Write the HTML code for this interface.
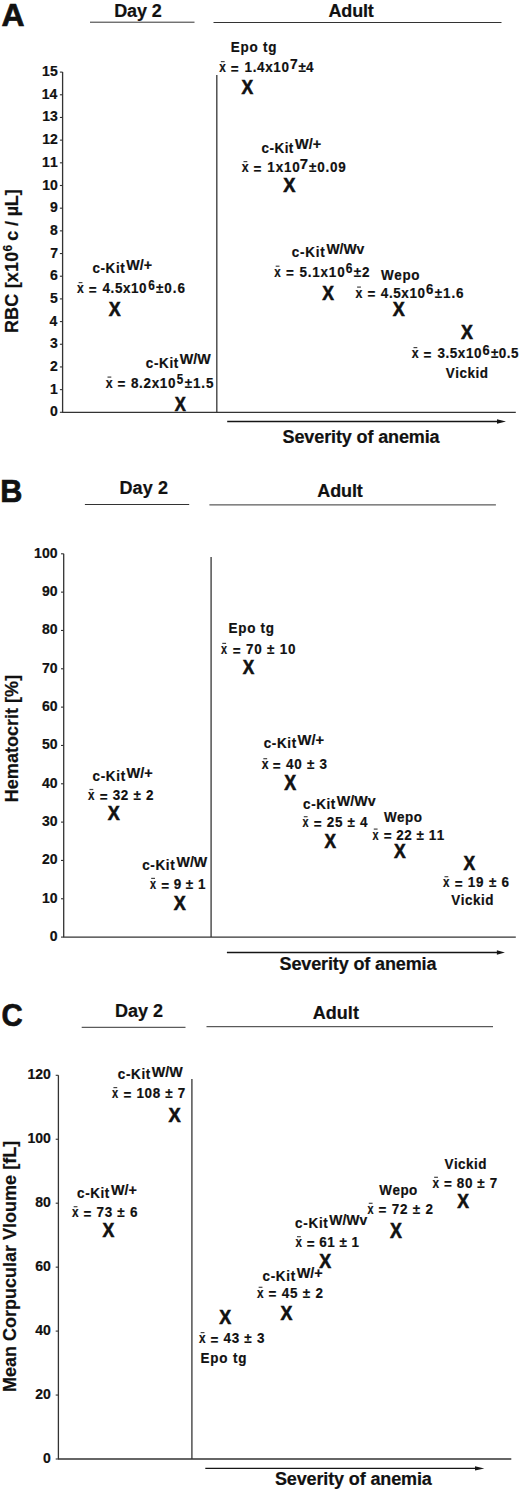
<!DOCTYPE html>
<html><head><meta charset="utf-8"><style>
html,body{margin:0;padding:0;background:#fff;}
svg{display:block;}
text{font-family:"Liberation Sans", sans-serif;font-weight:bold;fill:#111;font-kerning:none;stroke:#111;stroke-width:0.2px;}
.m{stroke-width:0.6px;}
.pl{stroke-width:0.7px;}
</style></head><body>
<svg width="520" height="1490" viewBox="0 0 520 1490">
<text transform="translate(1.51 26.10) scale(0.9968 1)" x="0" y="0" font-size="32" class="pl">A</text>
<text x="114.20" y="16.70" font-size="18" letter-spacing="-0.127" >Day 2</text>
<line x1="90" y1="22.2" x2="194.5" y2="22.2" stroke="#333" stroke-width="1"/>
<text x="328.55" y="17.10" font-size="18" letter-spacing="-0.204" >Adult</text>
<line x1="213.5" y1="22.5" x2="501.5" y2="22.5" stroke="#333" stroke-width="1"/>
<line x1="62.6" y1="72.1" x2="62.6" y2="412.3" stroke="#333" stroke-width="1.3"/>
<line x1="59.9" y1="412.3" x2="62.6" y2="412.3" stroke="#333" stroke-width="1.1"/>
<text x="50.09" y="416.30" font-size="14" >0</text>
<line x1="59.9" y1="389.62" x2="62.6" y2="389.62" stroke="#333" stroke-width="1.1"/>
<text x="49.90" y="393.62" font-size="14" >1</text>
<line x1="59.9" y1="366.94" x2="62.6" y2="366.94" stroke="#333" stroke-width="1.1"/>
<text x="50.07" y="370.94" font-size="14" >2</text>
<line x1="59.9" y1="344.26" x2="62.6" y2="344.26" stroke="#333" stroke-width="1.1"/>
<text x="50.02" y="348.26" font-size="14" >3</text>
<line x1="59.9" y1="321.58" x2="62.6" y2="321.58" stroke="#333" stroke-width="1.1"/>
<text x="49.59" y="325.58" font-size="14" >4</text>
<line x1="59.9" y1="298.9" x2="62.6" y2="298.9" stroke="#333" stroke-width="1.1"/>
<text x="49.90" y="302.90" font-size="14" >5</text>
<line x1="59.9" y1="276.22" x2="62.6" y2="276.22" stroke="#333" stroke-width="1.1"/>
<text x="50.02" y="280.22" font-size="14" >6</text>
<line x1="59.9" y1="253.53999999999996" x2="62.6" y2="253.53999999999996" stroke="#333" stroke-width="1.1"/>
<text x="50.13" y="257.54" font-size="14" >7</text>
<line x1="59.9" y1="230.85999999999999" x2="62.6" y2="230.85999999999999" stroke="#333" stroke-width="1.1"/>
<text x="49.94" y="234.86" font-size="14" >8</text>
<line x1="59.9" y1="208.18" x2="62.6" y2="208.18" stroke="#333" stroke-width="1.1"/>
<text x="50.03" y="212.18" font-size="14" >9</text>
<line x1="59.9" y1="185.49999999999997" x2="62.6" y2="185.49999999999997" stroke="#333" stroke-width="1.1"/>
<text x="42.30" y="189.50" font-size="14" >10</text>
<line x1="59.9" y1="162.81999999999996" x2="62.6" y2="162.81999999999996" stroke="#333" stroke-width="1.1"/>
<text x="42.12" y="166.82" font-size="14" >11</text>
<line x1="59.9" y1="140.14" x2="62.6" y2="140.14" stroke="#333" stroke-width="1.1"/>
<text x="42.29" y="144.14" font-size="14" >12</text>
<line x1="59.9" y1="117.45999999999998" x2="62.6" y2="117.45999999999998" stroke="#333" stroke-width="1.1"/>
<text x="42.23" y="121.46" font-size="14" >13</text>
<line x1="59.9" y1="94.77999999999992" x2="62.6" y2="94.77999999999992" stroke="#333" stroke-width="1.1"/>
<text x="41.80" y="98.78" font-size="14" >14</text>
<line x1="59.9" y1="72.09999999999997" x2="62.6" y2="72.09999999999997" stroke="#333" stroke-width="1.1"/>
<text x="42.12" y="76.10" font-size="14" >15</text>
<text transform="translate(18.10,0) rotate(-90)" x="-333.10" y="0" font-size="18" letter-spacing="0.188">RBC [x10</text>
<text transform="translate(12.40,0) rotate(-90)" x="-251.44" y="0" font-size="12" letter-spacing="0.000">6</text>
<text transform="translate(18.10,0) rotate(-90)" x="-240.80" y="0" font-size="18" letter-spacing="-0.143">c / µL]</text>
<line x1="216.8" y1="75" x2="216.8" y2="412.3" stroke="#444" stroke-width="1.4"/>
<line x1="62" y1="412.3" x2="515.8" y2="412.3" stroke="#333" stroke-width="1.3"/>
<line x1="227.2" y1="421.5" x2="499" y2="421.5" stroke="#151515" stroke-width="1.4"/>
<polygon points="497,419.3 506,421.5 497,423.7" fill="#151515"/>
<text x="282.58" y="442.90" font-size="18" letter-spacing="-0.122" >Severity of anemia</text>
<text transform="translate(230.70 52.00) scale(0.8800 1)" x="0" y="0" font-size="15.3" letter-spacing="0.869" >Epo tg</text>
<text transform="translate(219.32 72.00) scale(0.7718 1)" x="0" y="0" font-size="15.3" >x</text>
<rect x="220.84" y="61.00" width="3.80" height="1.20" fill="#444"/>
<text transform="translate(230.74 73.70) scale(0.8800 1)" x="0" y="0" font-size="15.3" >=</text>
<text transform="translate(244.55 72.00) scale(0.8800 1)" x="0" y="0" font-size="15.3" letter-spacing="0.732" >1.4x10</text>
<text transform="translate(290.10 68.60) scale(0.9235 1)" x="0" y="0" font-size="15" >7</text>
<text transform="translate(298.48 72.00) scale(0.8800 1)" x="0" y="0" font-size="15.3" letter-spacing="0.247" >±4</text>
<text transform="translate(241.45 94.00) scale(0.8690 1)" x="0" y="0" font-size="20.2" class="m">X</text>
<text transform="translate(261.52 152.80) scale(0.8800 1)" x="0" y="0" font-size="15.3" letter-spacing="0.546" >c-Kit</text>
<text transform="translate(295.09 149.40) scale(1.0219 1)" x="0" y="0" font-size="14.2" >W/+</text>
<text transform="translate(241.82 172.00) scale(0.8080 1)" x="0" y="0" font-size="15.3" >x</text>
<rect x="243.50" y="161.00" width="3.80" height="1.20" fill="#444"/>
<text transform="translate(253.54 173.70) scale(0.8800 1)" x="0" y="0" font-size="15.3" >=</text>
<text transform="translate(267.35 172.00) scale(0.8800 1)" x="0" y="0" font-size="15.3" letter-spacing="0.965" >1x10</text>
<text transform="translate(299.86 168.60) scale(0.9945 1)" x="0" y="0" font-size="15" >7</text>
<text transform="translate(308.98 172.00) scale(0.8800 1)" x="0" y="0" font-size="15.3" letter-spacing="0.888" >±0.09</text>
<text transform="translate(283.14 192.00) scale(0.8878 1)" x="0" y="0" font-size="20.64" class="m">X</text>
<text transform="translate(291.67 257.40) scale(0.8800 1)" x="0" y="0" font-size="15.3" letter-spacing="0.872" >c-Kit</text>
<text transform="translate(326.39 253.90) scale(0.9826 1)" x="0" y="0" font-size="14.2" >W/Wv</text>
<text transform="translate(274.22 276.60) scale(0.7597 1)" x="0" y="0" font-size="15.3" >x</text>
<rect x="275.69" y="265.60" width="3.80" height="1.20" fill="#444"/>
<text transform="translate(285.94 278.30) scale(0.8800 1)" x="0" y="0" font-size="15.3" >=</text>
<text transform="translate(299.39 276.60) scale(0.8800 1)" x="0" y="0" font-size="15.3" letter-spacing="0.929" >5.1x10</text>
<text transform="translate(345.66 273.20) scale(0.7999 1)" x="0" y="0" font-size="15" >6</text>
<text transform="translate(353.78 276.60) scale(0.8800 1)" x="0" y="0" font-size="15.3" letter-spacing="0.891" >±2</text>
<text transform="translate(322.15 300.00) scale(0.8387 1)" x="0" y="0" font-size="20.93" class="m">X</text>
<text transform="translate(380.99 279.50) scale(0.8800 1)" x="0" y="0" font-size="15.3" letter-spacing="0.718" >Wepo</text>
<text transform="translate(355.42 297.50) scale(0.8080 1)" x="0" y="0" font-size="15.3" >x</text>
<rect x="357.10" y="286.50" width="3.80" height="1.20" fill="#444"/>
<text transform="translate(367.54 299.20) scale(0.8800 1)" x="0" y="0" font-size="15.3" >=</text>
<text transform="translate(380.80 297.50) scale(0.8800 1)" x="0" y="0" font-size="15.3" letter-spacing="0.676" >4.5x10</text>
<text transform="translate(425.92 294.10) scale(0.8826 1)" x="0" y="0" font-size="15" >6</text>
<text transform="translate(434.78 297.50) scale(0.8800 1)" x="0" y="0" font-size="15.3" letter-spacing="0.986" >±1.6</text>
<text transform="translate(392.64 316.00) scale(0.8919 1)" x="0" y="0" font-size="20.2" class="m">X</text>
<text transform="translate(460.94 339.00) scale(0.8534 1)" x="0" y="0" font-size="20.93" class="m">X</text>
<text transform="translate(411.82 358.00) scale(0.8080 1)" x="0" y="0" font-size="15.3" >x</text>
<rect x="413.50" y="347.00" width="3.80" height="1.20" fill="#444"/>
<text transform="translate(423.54 359.70) scale(0.8800 1)" x="0" y="0" font-size="15.3" >=</text>
<text transform="translate(437.49 358.00) scale(0.8800 1)" x="0" y="0" font-size="15.3" letter-spacing="0.632" >3.5x10</text>
<text transform="translate(482.43 354.60) scale(0.8551 1)" x="0" y="0" font-size="15" >6</text>
<text transform="translate(490.88 358.00) scale(0.8800 1)" x="0" y="0" font-size="15.3" letter-spacing="0.565" >±0.5</text>
<text transform="translate(445.81 377.50) scale(0.8800 1)" x="0" y="0" font-size="15.3" letter-spacing="0.595" >Vickid</text>
<text transform="translate(92.47 273.40) scale(0.8800 1)" x="0" y="0" font-size="15.3" letter-spacing="0.674" >c-Kit</text>
<text transform="translate(126.29 270.40) scale(1.0059 1)" x="0" y="0" font-size="14.2" >W/+</text>
<text transform="translate(77.02 293.00) scale(0.7959 1)" x="0" y="0" font-size="15.3" >x</text>
<rect x="78.64" y="282.00" width="3.80" height="1.20" fill="#444"/>
<text transform="translate(88.74 294.70) scale(0.8800 1)" x="0" y="0" font-size="15.3" >=</text>
<text transform="translate(102.60 293.00) scale(0.8800 1)" x="0" y="0" font-size="15.3" letter-spacing="0.608" >4.5x10</text>
<text transform="translate(148.37 289.60) scale(0.7861 1)" x="0" y="0" font-size="15" >6</text>
<text transform="translate(156.08 293.00) scale(0.8800 1)" x="0" y="0" font-size="15.3" letter-spacing="1.024" >±0.6</text>
<text transform="translate(108.64 316.00) scale(0.8474 1)" x="0" y="0" font-size="21.08" class="m">X</text>
<text transform="translate(145.87 367.60) scale(0.8800 1)" x="0" y="0" font-size="15.3" letter-spacing="0.730" >c-Kit</text>
<text transform="translate(179.79 364.30) scale(1.0058 1)" x="0" y="0" font-size="14.2" >W/W</text>
<text transform="translate(105.82 387.50) scale(0.8080 1)" x="0" y="0" font-size="15.3" >x</text>
<rect x="107.50" y="376.50" width="3.80" height="1.20" fill="#444"/>
<text transform="translate(117.54 389.20) scale(0.8800 1)" x="0" y="0" font-size="15.3" >=</text>
<text transform="translate(130.97 387.50) scale(0.8800 1)" x="0" y="0" font-size="15.3" letter-spacing="0.750" >8.2x10</text>
<text transform="translate(176.64 384.10) scale(0.7771 1)" x="0" y="0" font-size="15" >5</text>
<text transform="translate(184.78 387.50) scale(0.8800 1)" x="0" y="0" font-size="15.3" letter-spacing="0.943" >±1.5</text>
<text transform="translate(174.75 411.00) scale(0.8290 1)" x="0" y="0" font-size="20.06" class="m">X</text>
<text transform="translate(0.15 502.00) scale(0.9582 1)" x="0" y="0" font-size="32" class="pl">B</text>
<text x="119.50" y="494.30" font-size="18" letter-spacing="0.123" >Day 2</text>
<line x1="84.9" y1="504.5" x2="189.2" y2="504.5" stroke="#333" stroke-width="1"/>
<text x="317.25" y="496.90" font-size="18" letter-spacing="-0.104" >Adult</text>
<line x1="209.4" y1="504.9" x2="495.9" y2="504.9" stroke="#333" stroke-width="1"/>
<line x1="63.7" y1="553.8" x2="63.7" y2="937.1" stroke="#333" stroke-width="1.3"/>
<line x1="61.0" y1="937.1" x2="63.7" y2="937.1" stroke="#333" stroke-width="1.1"/>
<text x="49.69" y="941.10" font-size="14" >0</text>
<line x1="61.0" y1="898.77" x2="63.7" y2="898.77" stroke="#333" stroke-width="1.1"/>
<text x="41.90" y="902.77" font-size="14" >10</text>
<line x1="61.0" y1="860.44" x2="63.7" y2="860.44" stroke="#333" stroke-width="1.1"/>
<text x="41.90" y="864.44" font-size="14" >20</text>
<line x1="61.0" y1="822.11" x2="63.7" y2="822.11" stroke="#333" stroke-width="1.1"/>
<text x="41.90" y="826.11" font-size="14" >30</text>
<line x1="61.0" y1="783.78" x2="63.7" y2="783.78" stroke="#333" stroke-width="1.1"/>
<text x="41.90" y="787.78" font-size="14" >40</text>
<line x1="61.0" y1="745.45" x2="63.7" y2="745.45" stroke="#333" stroke-width="1.1"/>
<text x="41.90" y="749.45" font-size="14" >50</text>
<line x1="61.0" y1="707.12" x2="63.7" y2="707.12" stroke="#333" stroke-width="1.1"/>
<text x="41.90" y="711.12" font-size="14" >60</text>
<line x1="61.0" y1="668.79" x2="63.7" y2="668.79" stroke="#333" stroke-width="1.1"/>
<text x="41.90" y="672.79" font-size="14" >70</text>
<line x1="61.0" y1="630.46" x2="63.7" y2="630.46" stroke="#333" stroke-width="1.1"/>
<text x="41.90" y="634.46" font-size="14" >80</text>
<line x1="61.0" y1="592.1299999999999" x2="63.7" y2="592.1299999999999" stroke="#333" stroke-width="1.1"/>
<text x="41.90" y="596.13" font-size="14" >90</text>
<line x1="61.0" y1="553.8" x2="63.7" y2="553.8" stroke="#333" stroke-width="1.1"/>
<text x="34.12" y="557.80" font-size="14" >100</text>
<text transform="translate(17.90,0) rotate(-90)" x="-802.20" y="0" font-size="18" letter-spacing="0.023">Hematocrit [%]</text>
<line x1="211.1" y1="557" x2="211.1" y2="937.1" stroke="#444" stroke-width="1.4"/>
<line x1="63.2" y1="937.2" x2="515.8" y2="937.2" stroke="#333" stroke-width="1.3"/>
<line x1="226.9" y1="952.5" x2="498" y2="952.5" stroke="#151515" stroke-width="1.4"/>
<polygon points="496.9,950.3 504.9,952.5 496.9,954.7" fill="#151515"/>
<text x="279.58" y="970.30" font-size="18" letter-spacing="-0.128" >Severity of anemia</text>
<text transform="translate(228.60 633.30) scale(0.8800 1)" x="0" y="0" font-size="15.3" letter-spacing="0.801" >Epo tg</text>
<text transform="translate(221.03 653.80) scale(0.7115 1)" x="0" y="0" font-size="15.3" >x</text>
<rect x="222.28" y="642.80" width="3.80" height="1.20" fill="#444"/>
<text transform="translate(232.74 653.80) scale(0.8800 1)" x="0" y="0" font-size="15.3" letter-spacing="0.893" ><tspan dy="1.7">=</tspan><tspan dy="-1.7"> 70 ± 10</tspan></text>
<text transform="translate(242.65 674.00) scale(0.8356 1)" x="0" y="0" font-size="20.64" class="m">X</text>
<text transform="translate(263.67 748.10) scale(0.8800 1)" x="0" y="0" font-size="15.3" letter-spacing="0.759" >c-Kit</text>
<text transform="translate(297.59 744.70) scale(1.0379 1)" x="0" y="0" font-size="14.2" >W/+</text>
<text transform="translate(261.72 769.10) scale(0.7959 1)" x="0" y="0" font-size="15.3" >x</text>
<rect x="263.34" y="758.10" width="3.80" height="1.20" fill="#444"/>
<text transform="translate(272.84 769.10) scale(0.8800 1)" x="0" y="0" font-size="15.3" letter-spacing="0.861" ><tspan dy="1.7">=</tspan><tspan dy="-1.7"> 40 ± 3</tspan></text>
<text transform="translate(284.24 790.00) scale(0.8418 1)" x="0" y="0" font-size="21.22" class="m">X</text>
<text transform="translate(303.07 809.30) scale(0.8800 1)" x="0" y="0" font-size="15.3" letter-spacing="0.674" >c-Kit</text>
<text transform="translate(336.79 806.30) scale(1.0033 1)" x="0" y="0" font-size="14.2" >W/Wv</text>
<text transform="translate(302.53 827.10) scale(0.7115 1)" x="0" y="0" font-size="15.3" >x</text>
<rect x="303.78" y="816.10" width="3.80" height="1.20" fill="#444"/>
<text transform="translate(313.74 827.10) scale(0.8800 1)" x="0" y="0" font-size="15.3" letter-spacing="0.778" ><tspan dy="1.7">=</tspan><tspan dy="-1.7"> 25 ± 4</tspan></text>
<text transform="translate(324.45 848.00) scale(0.8475 1)" x="0" y="0" font-size="20.35" class="m">X</text>
<text transform="translate(383.99 822.30) scale(0.8800 1)" x="0" y="0" font-size="15.3" letter-spacing="0.490" >Wepo</text>
<text transform="translate(372.53 839.50) scale(0.7115 1)" x="0" y="0" font-size="15.3" >x</text>
<rect x="373.78" y="828.50" width="3.80" height="1.20" fill="#444"/>
<text transform="translate(383.74 839.50) scale(0.8800 1)" x="0" y="0" font-size="15.3" letter-spacing="0.583" ><tspan dy="1.7">=</tspan><tspan dy="-1.7"> 22 ± 11</tspan></text>
<text transform="translate(393.95 858.00) scale(0.8505 1)" x="0" y="0" font-size="20.64" class="m">X</text>
<text transform="translate(463.45 870.00) scale(0.8505 1)" x="0" y="0" font-size="20.64" class="m">X</text>
<text transform="translate(443.02 887.10) scale(0.7597 1)" x="0" y="0" font-size="15.3" >x</text>
<rect x="444.49" y="876.10" width="3.80" height="1.20" fill="#444"/>
<text transform="translate(454.64 887.10) scale(0.8800 1)" x="0" y="0" font-size="15.3" letter-spacing="0.894" ><tspan dy="1.7">=</tspan><tspan dy="-1.7"> 19 ± 6</tspan></text>
<text transform="translate(451.21 905.20) scale(0.8800 1)" x="0" y="0" font-size="15.3" letter-spacing="0.618" >Vickid</text>
<text transform="translate(92.47 781.10) scale(0.8800 1)" x="0" y="0" font-size="15.3" letter-spacing="0.816" >c-Kit</text>
<text transform="translate(126.59 777.70) scale(1.0219 1)" x="0" y="0" font-size="14.2" >W/+</text>
<text transform="translate(88.02 799.90) scale(0.7597 1)" x="0" y="0" font-size="15.3" >x</text>
<rect x="89.49" y="788.90" width="3.80" height="1.20" fill="#444"/>
<text transform="translate(99.64 799.90) scale(0.8800 1)" x="0" y="0" font-size="15.3" letter-spacing="0.789" ><tspan dy="1.7">=</tspan><tspan dy="-1.7"> 32 ± 2</tspan></text>
<text transform="translate(107.64 820.00) scale(0.8729 1)" x="0" y="0" font-size="20.64" class="m">X</text>
<text transform="translate(142.17 869.80) scale(0.8800 1)" x="0" y="0" font-size="15.3" letter-spacing="0.759" >c-Kit</text>
<text transform="translate(176.49 866.80) scale(0.9993 1)" x="0" y="0" font-size="14.2" >W/W</text>
<text transform="translate(149.93 888.80) scale(0.7115 1)" x="0" y="0" font-size="15.3" >x</text>
<rect x="151.18" y="877.80" width="3.80" height="1.20" fill="#444"/>
<text transform="translate(161.24 888.80) scale(0.8800 1)" x="0" y="0" font-size="15.3" letter-spacing="0.508" ><tspan dy="1.7">=</tspan><tspan dy="-1.7"> 9 ± 1</tspan></text>
<text transform="translate(173.64 910.00) scale(0.8608 1)" x="0" y="0" font-size="20.93" class="m">X</text>
<text transform="translate(1.50 1026.30) scale(0.9177 1)" x="0" y="0" font-size="32" class="pl">C</text>
<text x="115.10" y="1017.30" font-size="18" letter-spacing="-0.027" >Day 2</text>
<line x1="81.7" y1="1027.3" x2="185.5" y2="1027.3" stroke="#333" stroke-width="1"/>
<text x="312.65" y="1018.60" font-size="18" letter-spacing="0.071" >Adult</text>
<line x1="206.5" y1="1026.7" x2="493" y2="1026.7" stroke="#333" stroke-width="1"/>
<line x1="58.4" y1="1075.3" x2="58.4" y2="1459" stroke="#333" stroke-width="1.3"/>
<line x1="55.699999999999996" y1="1459.0" x2="58.4" y2="1459.0" stroke="#333" stroke-width="1.1"/>
<text x="43.09" y="1463.00" font-size="14" >0</text>
<line x1="55.699999999999996" y1="1395.05" x2="58.4" y2="1395.05" stroke="#333" stroke-width="1.1"/>
<text x="35.30" y="1399.05" font-size="14" >20</text>
<line x1="55.699999999999996" y1="1331.1" x2="58.4" y2="1331.1" stroke="#333" stroke-width="1.1"/>
<text x="35.30" y="1335.10" font-size="14" >40</text>
<line x1="55.699999999999996" y1="1267.15" x2="58.4" y2="1267.15" stroke="#333" stroke-width="1.1"/>
<text x="35.30" y="1271.15" font-size="14" >60</text>
<line x1="55.699999999999996" y1="1203.2" x2="58.4" y2="1203.2" stroke="#333" stroke-width="1.1"/>
<text x="35.30" y="1207.20" font-size="14" >80</text>
<line x1="55.699999999999996" y1="1139.25" x2="58.4" y2="1139.25" stroke="#333" stroke-width="1.1"/>
<text x="27.52" y="1143.25" font-size="14" >100</text>
<line x1="55.699999999999996" y1="1075.3" x2="58.4" y2="1075.3" stroke="#333" stroke-width="1.1"/>
<text x="27.52" y="1079.30" font-size="14" >120</text>
<text transform="translate(16.30,0) rotate(-90)" x="-1392.00" y="0" font-size="18" letter-spacing="0.004">Mean Corpucular Vloume [fL]</text>
<line x1="191.9" y1="1079" x2="191.9" y2="1459" stroke="#444" stroke-width="1.4"/>
<line x1="58" y1="1459" x2="511.3" y2="1459" stroke="#333" stroke-width="1.3"/>
<line x1="205.3" y1="1468.4" x2="477" y2="1468.4" stroke="#151515" stroke-width="1.4"/>
<polygon points="475,1466.2 484.3,1468.4 475,1470.6" fill="#151515"/>
<text x="274.88" y="1485.00" font-size="18" letter-spacing="-0.122" >Severity of anemia</text>
<text transform="translate(117.77 1079.40) scale(0.8800 1)" x="0" y="0" font-size="15.3" letter-spacing="0.759" >c-Kit</text>
<text transform="translate(151.79 1076.80) scale(1.0058 1)" x="0" y="0" font-size="14.2" >W/W</text>
<text transform="translate(112.12 1098.00) scale(0.7235 1)" x="0" y="0" font-size="15.3" >x</text>
<rect x="113.43" y="1087.00" width="3.80" height="1.20" fill="#444"/>
<text transform="translate(123.44 1098.00) scale(0.8800 1)" x="0" y="0" font-size="15.3" letter-spacing="0.756" ><tspan dy="1.7">=</tspan><tspan dy="-1.7"> 108 ± 7</tspan></text>
<text transform="translate(168.44 1122.00) scale(0.8878 1)" x="0" y="0" font-size="20.64" class="m">X</text>
<text transform="translate(77.07 1198.30) scale(0.8800 1)" x="0" y="0" font-size="15.3" letter-spacing="0.674" >c-Kit</text>
<text transform="translate(110.89 1195.00) scale(1.0139 1)" x="0" y="0" font-size="14.2" >W/+</text>
<text transform="translate(72.12 1217.10) scale(0.7718 1)" x="0" y="0" font-size="15.3" >x</text>
<rect x="73.64" y="1206.10" width="3.80" height="1.20" fill="#444"/>
<text transform="translate(83.54 1217.10) scale(0.8800 1)" x="0" y="0" font-size="15.3" letter-spacing="0.797" ><tspan dy="1.7">=</tspan><tspan dy="-1.7"> 73 ± 6</tspan></text>
<text transform="translate(102.54 1237.00) scale(0.8642 1)" x="0" y="0" font-size="20.49" class="m">X</text>
<text transform="translate(219.14 1324.00) scale(0.8654 1)" x="0" y="0" font-size="20.64" class="m">X</text>
<text transform="translate(199.12 1343.00) scale(0.7718 1)" x="0" y="0" font-size="15.3" >x</text>
<rect x="200.64" y="1332.00" width="3.80" height="1.20" fill="#444"/>
<text transform="translate(210.54 1343.00) scale(0.8800 1)" x="0" y="0" font-size="15.3" letter-spacing="0.797" ><tspan dy="1.7">=</tspan><tspan dy="-1.7"> 43 ± 3</tspan></text>
<text transform="translate(200.40 1362.50) scale(0.8800 1)" x="0" y="0" font-size="15.3" letter-spacing="0.960" >Epo tg</text>
<text transform="translate(262.47 1281.10) scale(0.8800 1)" x="0" y="0" font-size="15.3" letter-spacing="0.816" >c-Kit</text>
<text transform="translate(296.79 1278.10) scale(1.0139 1)" x="0" y="0" font-size="14.2" >W/+</text>
<text transform="translate(257.12 1297.70) scale(0.7718 1)" x="0" y="0" font-size="15.3" >x</text>
<rect x="258.64" y="1286.70" width="3.80" height="1.20" fill="#444"/>
<text transform="translate(268.54 1297.70) scale(0.8800 1)" x="0" y="0" font-size="15.3" letter-spacing="0.886" ><tspan dy="1.7">=</tspan><tspan dy="-1.7"> 45 ± 2</tspan></text>
<text transform="translate(280.44 1320.00) scale(0.8654 1)" x="0" y="0" font-size="20.64" class="m">X</text>
<text transform="translate(295.07 1228.30) scale(0.8800 1)" x="0" y="0" font-size="15.3" letter-spacing="0.816" >c-Kit</text>
<text transform="translate(329.29 1225.10) scale(0.9826 1)" x="0" y="0" font-size="14.2" >W/Wv</text>
<text transform="translate(295.52 1247.10) scale(0.7597 1)" x="0" y="0" font-size="15.3" >x</text>
<rect x="296.99" y="1236.10" width="3.80" height="1.20" fill="#444"/>
<text transform="translate(306.74 1247.10) scale(0.8800 1)" x="0" y="0" font-size="15.3" letter-spacing="0.535" ><tspan dy="1.7">=</tspan><tspan dy="-1.7"> 61 ± 1</tspan></text>
<text transform="translate(319.24 1268.00) scale(0.8534 1)" x="0" y="0" font-size="20.93" class="m">X</text>
<text transform="translate(379.29 1194.70) scale(0.8800 1)" x="0" y="0" font-size="15.3" letter-spacing="0.528" >Wepo</text>
<text transform="translate(367.53 1213.70) scale(0.7115 1)" x="0" y="0" font-size="15.3" >x</text>
<rect x="368.78" y="1202.70" width="3.80" height="1.20" fill="#444"/>
<text transform="translate(378.44 1213.70) scale(0.8800 1)" x="0" y="0" font-size="15.3" letter-spacing="0.903" ><tspan dy="1.7">=</tspan><tspan dy="-1.7"> 72 ± 2</tspan></text>
<text transform="translate(389.94 1238.00) scale(0.8418 1)" x="0" y="0" font-size="21.22" class="m">X</text>
<text transform="translate(444.51 1169.40) scale(0.8800 1)" x="0" y="0" font-size="15.3" letter-spacing="0.504" >Vickid</text>
<text transform="translate(432.62 1187.70) scale(0.7718 1)" x="0" y="0" font-size="15.3" >x</text>
<rect x="434.14" y="1176.70" width="3.80" height="1.20" fill="#444"/>
<text transform="translate(444.04 1187.70) scale(0.8800 1)" x="0" y="0" font-size="15.3" letter-spacing="0.684" ><tspan dy="1.7">=</tspan><tspan dy="-1.7"> 80 ± 7</tspan></text>
<text transform="translate(457.25 1208.00) scale(0.8505 1)" x="0" y="0" font-size="20.64" class="m">X</text>
</svg>
</body></html>
